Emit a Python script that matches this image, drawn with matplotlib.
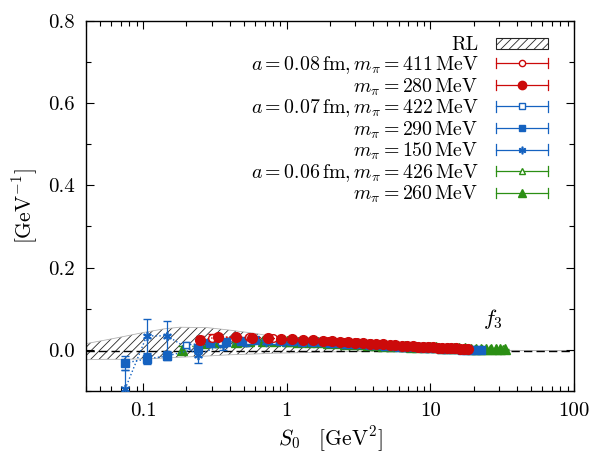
import numpy as np
import matplotlib
matplotlib.use("Agg")
import matplotlib.pyplot as plt
from matplotlib.lines import Line2D
from matplotlib.patches import Patch
from matplotlib.legend_handler import HandlerBase
from matplotlib.ticker import FixedLocator, NullFormatter, MultipleLocator, FuncFormatter

plt.rcParams["font.family"] = "serif"
plt.rcParams["font.serif"] = ["cmr10", "DejaVu Serif"]
plt.rcParams["mathtext.fontset"] = "cm"
plt.rcParams["axes.formatter.use_mathtext"] = True
plt.rcParams["hatch.linewidth"] = 0.6

RED = "#cc0a0a"
BLUE = "#1562c0"
GREEN = "#2b8f14"

# RL band (reference curve f3)
rl_s = [0.04, 0.055, 0.07, 0.1, 0.14, 0.18, 0.28, 0.4, 0.6, 0.85, 1.2, 1.6, 2.0, 3.0, 4.0, 6.0, 100.0]
rl_up = [0.015, 0.024, 0.031, 0.042, 0.051, 0.055, 0.054, 0.048, 0.040, 0.031, 0.022, 0.016, 0.012, 0.006, 0.003, 0.0, -0.002]
rl_lo = [-0.024, -0.023, -0.023, -0.022, -0.020, -0.018, -0.015, -0.012, -0.010, -0.008, -0.007, -0.006, -0.005, -0.004, -0.003, -0.002, -0.002]
rl_mid = [-0.002, -0.002, -0.002, -0.002, -0.002, -0.002, -0.002, -0.002, -0.002, -0.002, -0.002, -0.002, -0.002, -0.002, -0.002, -0.002, -0.002]

# a = 0.08 fm, m_pi = 411 MeV
s_r411 = [0.30, 0.55, 0.80, 1.10, 1.50, 1.95, 2.50, 3.1, 3.8, 4.6, 5.5, 6.5, 7.6, 8.8, 10.1, 11.5, 13.0, 14.6, 16.3]
y_r411 = [0.030, 0.031, 0.028, 0.026, 0.024, 0.022, 0.020, 0.018, 0.016, 0.014, 0.012, 0.010, 0.009, 0.008, 0.006, 0.005, 0.004, 0.003, 0.002]
e_r411 = [0.008, 0.004, 0.003, 0.003, 0.003, 0.002, 0.002, 0.002, 0.002, 0.002, 0.002, 0.002, 0.001, 0.001, 0.001, 0.001, 0.001, 0.001, 0.001]

# m_pi = 280 MeV
s_r280 = [0.25, 0.33, 0.44, 0.57, 0.74, 0.91, 1.09, 1.30, 1.52, 1.78, 2.05, 2.35, 2.67, 3.0, 3.4, 3.8, 4.2, 4.7,
          5.2, 5.7, 6.3, 6.9, 7.5, 8.2, 8.9, 9.6, 10.4, 11.2, 12.1, 13.0, 14.0, 15.0, 16.0, 17.1, 18.2]
y_r280 = [0.024, 0.031, 0.031, 0.029, 0.028, 0.027, 0.026, 0.025, 0.024, 0.022, 0.021, 0.020, 0.019, 0.017, 0.016,
          0.015, 0.014, 0.013, 0.012, 0.011, 0.010, 0.009, 0.0085, 0.008, 0.007, 0.0065, 0.006, 0.0055, 0.005,
          0.0045, 0.004, 0.0035, 0.003, 0.0025, 0.002]
e_r280 = [0.010, 0.007, 0.005, 0.004, 0.004, 0.003, 0.003, 0.003, 0.003, 0.002, 0.002, 0.002, 0.002, 0.002, 0.002,
          0.002, 0.002, 0.002, 0.002, 0.002, 0.002, 0.002, 0.002, 0.002, 0.002, 0.001, 0.001, 0.001, 0.001,
          0.001, 0.001, 0.001, 0.001, 0.001, 0.001]

# a = 0.07 fm, m_pi = 422 MeV
s_b422 = [0.20, 0.35, 0.55, 0.80, 1.10, 1.50, 2.0, 2.6, 3.3, 4.1, 5.0, 6.1, 7.3, 8.6, 10.0, 11.6, 13.3, 15.1, 17.0, 19.0]
y_b422 = [0.012, 0.019, 0.021, 0.021, 0.020, 0.019, 0.017, 0.015, 0.013, 0.011, 0.010, 0.008, 0.007, 0.006, 0.005,
          0.004, 0.003, 0.002, 0.001, 0.000]
e_b422 = [0.008, 0.005, 0.004, 0.003, 0.003, 0.002, 0.002, 0.002, 0.002, 0.002, 0.002, 0.002, 0.001, 0.001, 0.001,
          0.001, 0.001, 0.001, 0.001, 0.001]

# m_pi = 290 MeV
s_b290 = [0.075, 0.106, 0.147, 0.24, 0.29, 0.38, 0.48, 0.60, 0.74, 0.90, 1.08, 1.28, 1.50, 1.75, 2.0, 2.3, 2.6,
          3.0, 3.4, 3.8, 4.3, 4.8, 5.4, 6.0, 6.7, 7.4, 8.2, 9.0, 9.9, 10.8, 11.8, 12.9, 14.0, 15.2, 16.5, 17.8,
          19.2, 20.7, 22.3]
y_b290 = [-0.032, -0.022, -0.015, 0.004, 0.016, 0.020, 0.022, 0.023, 0.023, 0.022, 0.021, 0.020, 0.019, 0.018,
          0.017, 0.016, 0.015, 0.014, 0.013, 0.012, 0.011, 0.010, 0.009, 0.008, 0.007, 0.0065, 0.006, 0.005,
          0.0045, 0.004, 0.003, 0.0025, 0.002, 0.001, 0.0005, 0.0, -0.0005, -0.001, -0.0015]
e_b290 = [0.018, 0.013, 0.010, 0.008, 0.006, 0.005, 0.004, 0.004, 0.003, 0.003, 0.003, 0.003, 0.002, 0.002,
          0.002, 0.002, 0.002, 0.002, 0.002, 0.002, 0.002, 0.002, 0.002, 0.002, 0.002, 0.001, 0.001, 0.001,
          0.001, 0.001, 0.001, 0.001, 0.001, 0.001, 0.001, 0.001, 0.001, 0.001, 0.001]

# m_pi = 150 MeV
s_b150 = [0.075, 0.106, 0.147, 0.24, 0.36, 0.52, 0.72, 0.95, 1.25, 1.6, 2.0, 2.5, 3.1, 3.8, 4.6, 5.5, 6.6, 7.8, 9.2]
y_b150 = [-0.095, 0.034, 0.034, -0.012, 0.012, 0.018, 0.020, 0.020, 0.019, 0.018, 0.017, 0.015, 0.013, 0.012,
          0.010, 0.009, 0.008, 0.007, 0.006]
e_b150 = [0.045, 0.041, 0.036, 0.020, 0.012, 0.008, 0.006, 0.005, 0.004, 0.004, 0.003, 0.003, 0.003, 0.003,
          0.002, 0.002, 0.002, 0.002, 0.002]

# a = 0.06 fm, m_pi = 426 MeV
s_g426 = [0.30, 0.50, 0.75, 1.05, 1.40, 1.85, 2.4, 3.0, 3.7, 4.5, 5.4, 6.4, 7.6, 8.9, 10.4, 12.0, 13.8, 15.8,
          18.0, 20.4, 23.0, 25.8, 28.8, 32.0]
y_g426 = [0.017, 0.020, 0.021, 0.020, 0.019, 0.018, 0.016, 0.014, 0.013, 0.011, 0.010, 0.009, 0.008, 0.007,
          0.006, 0.005, 0.0045, 0.004, 0.0035, 0.003, 0.0025, 0.002, 0.0015, 0.001]
e_g426 = [0.006, 0.004, 0.003, 0.003, 0.002, 0.002, 0.002, 0.002, 0.002, 0.002, 0.002, 0.002, 0.001, 0.001,
          0.001, 0.001, 0.001, 0.001, 0.001, 0.001, 0.001, 0.001, 0.001, 0.001]

# m_pi = 260 MeV
s_g260 = [0.186, 0.26, 0.34, 0.44, 0.55, 0.68, 0.83, 1.0, 1.2, 1.42, 1.66, 1.93, 2.22, 2.54, 2.9, 3.3, 3.7, 4.2,
          4.7, 5.3, 5.9, 6.6, 7.3, 8.1, 9.0, 9.9, 10.9, 12.0, 13.2, 14.5, 15.9, 17.4, 19.0, 20.7, 22.5, 24.4,
          26.4, 28.5, 30.7, 33.0]
y_g260 = [0.0, 0.016, 0.018, 0.020, 0.021, 0.021, 0.021, 0.021, 0.020, 0.019, 0.018, 0.017, 0.016, 0.015, 0.014,
          0.013, 0.012, 0.011, 0.010, 0.0095, 0.009, 0.0085, 0.008, 0.0075, 0.007, 0.0065, 0.006, 0.0055, 0.005,
          0.0045, 0.004, 0.0035, 0.003, 0.0027, 0.0024, 0.0021, 0.0018, 0.0015, 0.0012, 0.001]
e_g260 = [0.010, 0.006, 0.005, 0.004, 0.003, 0.003, 0.003, 0.003, 0.002, 0.002, 0.002, 0.002, 0.002, 0.002,
          0.002, 0.002, 0.002, 0.002, 0.002, 0.002, 0.002, 0.001, 0.001, 0.001, 0.001, 0.001, 0.001, 0.001,
          0.001, 0.001, 0.001, 0.001, 0.001, 0.001, 0.001, 0.001, 0.001, 0.001, 0.001, 0.001]

labels = [
    r"$a = 0.08\,\mathrm{fm}, m_\pi = 411\,\mathrm{MeV}$",
    r"$m_\pi = 280\,\mathrm{MeV}$",
    r"$a = 0.07\,\mathrm{fm}, m_\pi = 422\,\mathrm{MeV}$",
    r"$m_\pi = 290\,\mathrm{MeV}$",
    r"$m_\pi = 150\,\mathrm{MeV}$",
    r"$a = 0.06\,\mathrm{fm}, m_\pi = 426\,\mathrm{MeV}$",
    r"$m_\pi = 260\,\mathrm{MeV}$",
]


class HandlerHBar(HandlerBase):
    # gnuplot-like key sample: line with end caps and a point in the middle
    def create_artists(self, legend, orig, xd, yd, width, height, fontsize, trans):
        y = height / 2 - yd
        x0, x1 = -xd, width - xd
        c = orig.get_color()
        h = 0.45 * height
        base = Line2D([x0, x1], [y, y], color=c, lw=0.9, transform=trans)
        cap0 = Line2D([x0, x0], [y - h, y + h], color=c, lw=0.9, transform=trans)
        cap1 = Line2D([x1, x1], [y - h, y + h], color=c, lw=0.9, transform=trans)
        mk = Line2D([(x0 + x1) / 2], [y], marker=orig.get_marker(), ms=orig.get_markersize(),
                    mfc=orig.get_markerfacecolor(), mec=c, mew=orig.get_markeredgewidth(),
                    ls="none", transform=trans)
        return [base, cap0, cap1, mk]


fig = plt.figure(figsize=(6.05, 4.55), dpi=100)
ax = fig.add_axes([0.142, 0.1407, 0.807, 0.8137])

ax.fill_between(rl_s, rl_lo, rl_up, facecolor="none", edgecolor="0.15", hatch="////", lw=0, zorder=1)
ax.plot(rl_s, rl_up, color="0.7", lw=0.6, zorder=1)
ax.plot(rl_s, rl_lo, color="0.7", lw=0.6, zorder=1)
ax.plot(rl_s, rl_mid, color="k", lw=1.0, dashes=(6, 3), zorder=1.5)

series = [
    (s_r411, y_r411, e_r411, RED, "o", "white", 5.5, 5),
    (s_r280, y_r280, e_r280, RED, "o", RED, 7.0, 6),
    (s_b422, y_b422, e_b422, BLUE, "s", "white", 5.0, 3.5),
    (s_b290, y_b290, e_b290, BLUE, "s", BLUE, 6.0, 4),
    (s_b150, y_b150, e_b150, BLUE, "x", BLUE, 6.0, 3),
    (s_g426, y_g426, e_g426, GREEN, "^", "white", 5.5, 2),
    (s_g260, y_g260, e_g260, GREEN, "^", GREEN, 6.5, 2.5),
]

handles = []
for (s, y, e, c, m, fc, ms, z), lab in zip(series, labels):
    mk = "$\\ast$" if m == "x" else m
    ax.errorbar(s, y, yerr=e, color=c, marker=mk, mfc=fc, mec=c, ms=ms, mew=1.0,
                ls=":", lw=1.0, elinewidth=0.9, capsize=3, zorder=z)
    handles.append(Line2D([], [], color=c, marker=mk, mfc=fc, mec=c, ms=ms - 1, mew=1.0))

rl_patch = Patch(facecolor="none", edgecolor="0.15", hatch="////", lw=0.8)

hmap = {h: HandlerHBar() for h in handles}
leg = ax.legend([rl_patch] + handles, ["RL"] + labels, handler_map=hmap, loc="upper right",
                bbox_to_anchor=(0.975, 0.995), markerfirst=False, frameon=False, fontsize=14.3,
                handlelength=2.6, handleheight=0.5, handletextpad=0.9, labelspacing=0.0,
                borderaxespad=0.3)

ax.text(27, 0.076, r"$f_3$", fontsize=16, ha="center", va="center")

ax.set_xscale("log")
ax.set_xlim(0.04, 100)
ax.set_ylim(-0.1, 0.8)
ax.xaxis.set_major_locator(FixedLocator([0.1, 1, 10, 100]))
ax.xaxis.set_major_formatter(FuncFormatter(lambda v, p: {0.1: "0.1", 1: "1", 10: "10", 100: "100"}.get(v, "")))
ax.xaxis.set_minor_locator(FixedLocator([k * 10.0 ** d for d in range(-2, 2) for k in range(2, 10)]))
ax.xaxis.set_minor_formatter(NullFormatter())
ax.yaxis.set_major_locator(MultipleLocator(0.2))
ax.yaxis.set_minor_locator(MultipleLocator(0.1))
ax.yaxis.set_major_formatter(FuncFormatter(lambda v, p: f"{v:.1f}"))
ax.tick_params(which="both", direction="in", top=True, right=True, labelsize=15, width=0.8)
ax.tick_params(which="major", length=6, pad=8)
ax.tick_params(which="minor", length=3.5)
for sp in ax.spines.values():
    sp.set_linewidth(1.0)

ax.set_xlabel(r"$S_0\quad[\mathrm{GeV}^2]$", fontsize=15.5, labelpad=3)
ax.set_ylabel(r"$[\mathrm{GeV}^{-1}]$", fontsize=15.5, labelpad=6)

fig.savefig("out.png", dpi=100)
